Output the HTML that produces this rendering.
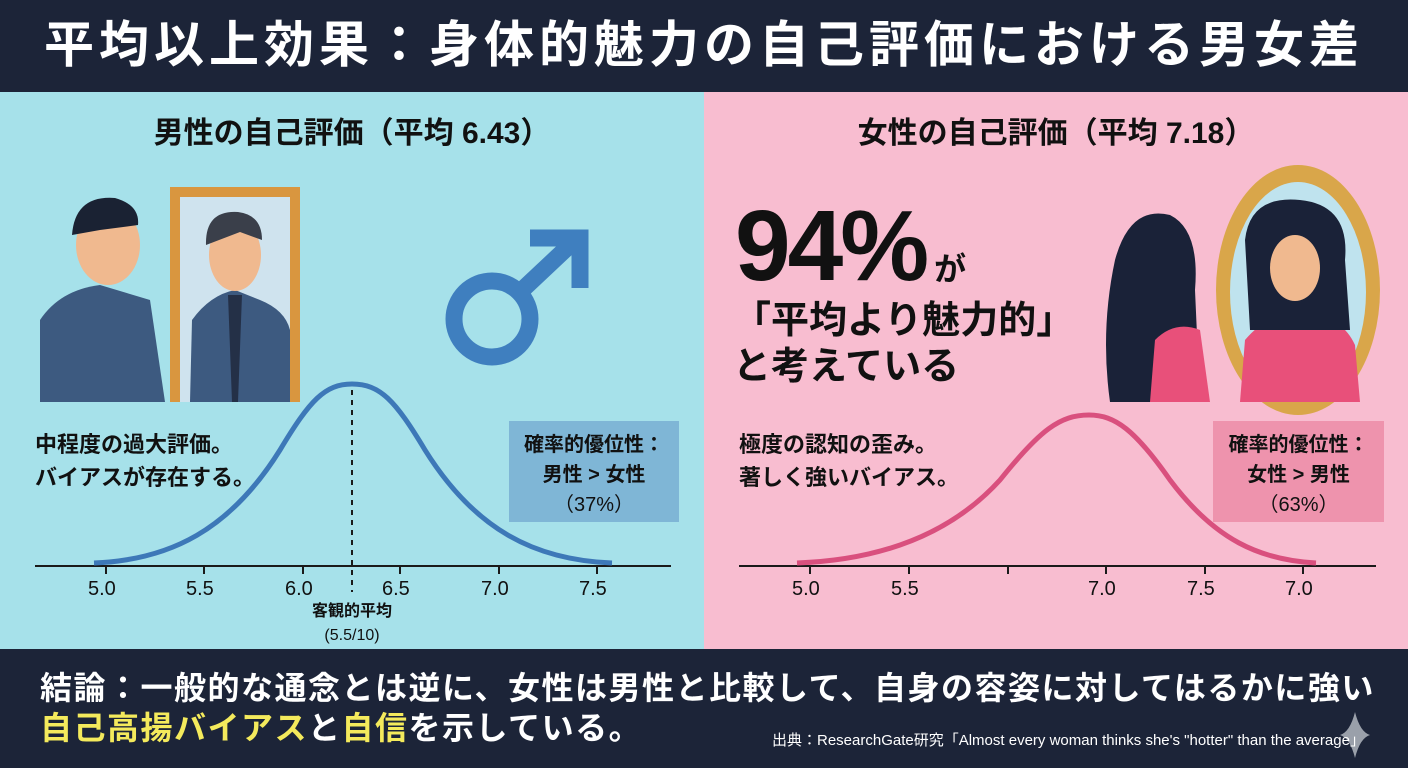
<!DOCTYPE html>
<html><head><meta charset="utf-8"><style>
*{margin:0;padding:0;box-sizing:border-box}
body{width:1408px;height:768px;overflow:hidden;position:relative;font-family:"Liberation Sans","Noto Sans CJK JP",sans-serif;font-weight:bold}
.a{position:absolute;white-space:nowrap}
</style></head><body>
<div class="a" style="left:0;top:0;width:1408px;height:92px;background:#1c2438"></div>
<div class="a" style="left:0;top:92px;width:704px;height:557px;background:#a6e1ea"></div>
<div class="a" style="left:704px;top:92px;width:704px;height:557px;background:#f8bdd0"></div>
<div class="a" style="left:0;top:649px;width:1408px;height:119px;background:#1c2438"></div>
<div class="a" style="left:0;top:15px;width:1408px;text-align:center;color:#fff;font-size:50px;letter-spacing:5px;line-height:60px">平均以上効果：身体的魅力の自己評価における男女差</div>
<div class="a" style="left:0;top:114px;width:704px;text-align:center;font-size:30px;color:#111;line-height:40px">男性の自己評価（平均 6.43）</div>
<div class="a" style="left:704px;top:114px;width:704px;text-align:center;font-size:30px;color:#111;line-height:40px">女性の自己評価（平均 7.18）</div>

<svg class="a" style="left:0;top:0" width="1408" height="768">
<rect x="170" y="187" width="130" height="215" fill="#d9963f"/>
<rect x="180" y="197" width="110" height="205" fill="#cfe3ee"/>
<path d="M40 402 L40 320 Q60 290 100 285 L150 300 L165 402Z" fill="#3d5a80"/>
<ellipse cx="108" cy="245" rx="32" ry="40" fill="#f0b98f"/>
<path d="M72 235 Q75 195 115 198 Q140 205 138 225 L100 230Z" fill="#1a2233"/>
<path d="M190 402 L192 320 Q210 295 235 290 L260 300 Q285 310 290 330 L290 402Z" fill="#3d5a80"/>
<ellipse cx="235" cy="255" rx="26" ry="36" fill="#f0b98f"/>
<path d="M206 245 Q205 210 238 212 Q262 215 262 240 L240 232Z" fill="#3a3f4a"/>
<path d="M228 295 L242 295 L238 402 L232 402Z" fill="#243047"/>
<circle cx="492" cy="319" r="38" fill="none" stroke="#3f7fbf" stroke-width="17"/>
<path d="M520 292 L570 245" stroke="#3f7fbf" stroke-width="17"/>
<path d="M530 238 L580 238 L580 288" fill="none" stroke="#3f7fbf" stroke-width="17"/>
<ellipse cx="1298" cy="290" rx="82" ry="125" fill="#d9a64a"/>
<ellipse cx="1298" cy="292" rx="68" ry="110" fill="#bfe3ee"/>
<path d="M1240 402 L1245 340 Q1270 310 1300 318 Q1340 312 1355 345 L1360 402Z" fill="#e8507a"/>
<path d="M1245 240 Q1250 195 1300 200 Q1350 205 1345 260 L1350 330 L1250 330Z" fill="#1a2238"/>
<ellipse cx="1295" cy="268" rx="25" ry="33" fill="#f0b98f"/>
<path d="M1110 402 Q1100 330 1115 260 Q1130 205 1170 215 Q1200 230 1195 290 L1200 402Z" fill="#1a2238"/>
<path d="M1150 402 L1155 340 Q1175 320 1200 330 L1210 402Z" fill="#e8507a"/>
<line x1="35" y1="566" x2="671" y2="566" stroke="#1a1a1a" stroke-width="2"/>
<g stroke="#1a1a1a" stroke-width="2"><line x1="106" y1="566" x2="106" y2="574"/><line x1="204" y1="566" x2="204" y2="574"/><line x1="303" y1="566" x2="303" y2="574"/><line x1="400" y1="566" x2="400" y2="574"/><line x1="499" y1="566" x2="499" y2="574"/><line x1="597" y1="566" x2="597" y2="574"/></g>
<path d="M94 563 C170 560 230 530 280 450 C310 400 325 384 352 384 C380 384 395 400 425 450 C475 530 535 560 612 563" fill="none" stroke="#3d78b8" stroke-width="5"/>
<line x1="352" y1="390" x2="352" y2="592" stroke="#1a1a1a" stroke-width="2" stroke-dasharray="5,5"/>
<rect x="509" y="421" width="170" height="101" fill="#7fb6d6"/>
<line x1="739" y1="566" x2="1376" y2="566" stroke="#1a1a1a" stroke-width="2"/>
<g stroke="#1a1a1a" stroke-width="2"><line x1="810" y1="566" x2="810" y2="574"/><line x1="909" y1="566" x2="909" y2="574"/><line x1="1008" y1="566" x2="1008" y2="574"/><line x1="1106" y1="566" x2="1106" y2="574"/><line x1="1205" y1="566" x2="1205" y2="574"/><line x1="1303" y1="566" x2="1303" y2="574"/></g>
<path d="M797 563 C880 560 950 535 1000 480 C1040 430 1060 415 1089 415 C1115 415 1135 430 1170 480 C1215 540 1260 560 1316 563" fill="none" stroke="#d9507e" stroke-width="5"/>
<rect x="1213" y="421" width="171" height="101" fill="#ee93ad"/>
<path d="M1355 712 Q1360 732 1370 735 Q1360 738 1355 758 Q1350 738 1340 735 Q1350 732 1355 712Z" fill="#9aa0aa"/>
</svg>

<div class="a" style="left:35px;top:428px;font-size:22px;line-height:33px;color:#111">中程度の過大評価。<br>バイアスが存在する。</div>
<div class="a" style="left:509px;top:430px;width:170px;text-align:center;font-size:20px;line-height:30px;color:#111">確率的優位性：<br>男性 &gt; 女性<br><span style="font-weight:normal">（37%）</span></div>
<div class="a" style="left:739px;top:428px;font-size:22px;line-height:33px;color:#111">極度の認知の歪み。<br>著しく強いバイアス。</div>
<div class="a" style="left:1213px;top:430px;width:171px;text-align:center;font-size:20px;line-height:30px;color:#111">確率的優位性：<br>女性 &gt; 男性<br><span style="font-weight:normal">（63%）</span></div>

<div class="a" style="font-size:20px;color:#111;font-weight:normal;top:578px;left:0;width:704px;height:30px">
<span class="a" style="left:88px">5.0</span><span class="a" style="left:186px">5.5</span><span class="a" style="left:285px">6.0</span><span class="a" style="left:382px">6.5</span><span class="a" style="left:481px">7.0</span><span class="a" style="left:579px">7.5</span></div>
<div class="a" style="left:252px;top:600px;width:200px;text-align:center;font-size:16px;line-height:24px;color:#111">客観的平均<br><span style="font-weight:normal">(5.5/10)</span></div>
<div class="a" style="font-size:20px;color:#111;font-weight:normal;top:578px;left:0;width:1408px;height:30px">
<span class="a" style="left:792px">5.0</span><span class="a" style="left:891px">5.5</span><span class="a" style="left:1088px">7.0</span><span class="a" style="left:1187px">7.5</span><span class="a" style="left:1285px">7.0</span></div>

<div class="a" style="left:735px;top:196px;font-size:100px;line-height:100px;color:#111;letter-spacing:-3px">94%<span style="font-size:32px;letter-spacing:0;margin-left:8px">が</span></div>
<div class="a" style="left:733px;top:298px;font-size:38px;line-height:46px;color:#111">「平均より魅力的」<br>と考えている</div>

<div class="a" style="left:40px;top:667px;font-size:32px;line-height:42px;color:#fff;letter-spacing:1.5px">結論：一般的な通念とは逆に、女性は男性と比較して、自身の容姿に対してはるかに強い</div>
<div class="a" style="left:40px;top:707px;font-size:32px;line-height:42px;color:#fff;letter-spacing:1.5px"><span style="color:#f4ea5c">自己高揚バイアス</span>と<span style="color:#f4ea5c">自信</span>を示している。</div>
<div class="a" style="left:772px;top:731px;font-size:15px;line-height:20px;color:#fff;font-weight:normal">出典：ResearchGate研究「Almost every woman thinks she's "hotter" than the average」</div>
</body></html>
